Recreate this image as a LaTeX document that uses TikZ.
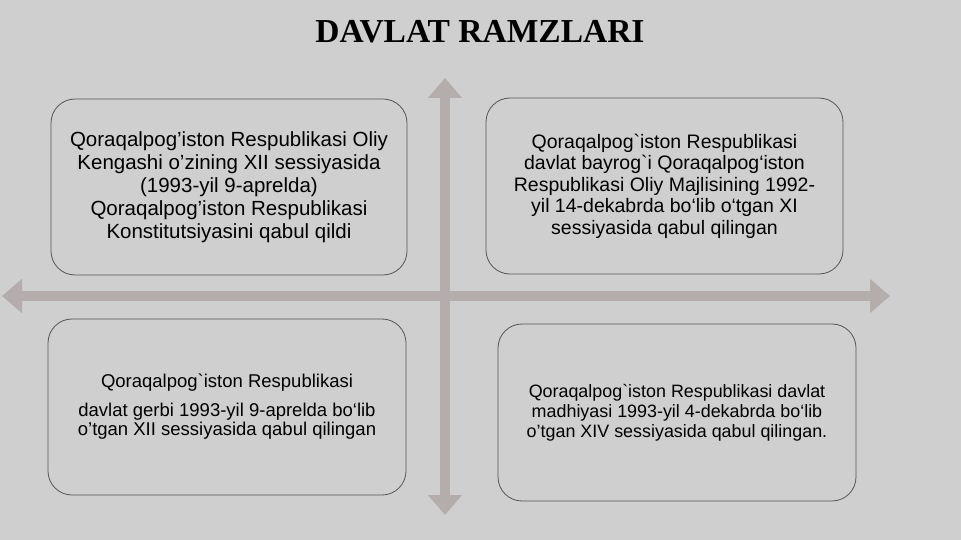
\documentclass[tikz,border=0pt]{standalone}
\usepackage{fontspec}
\setmainfont{Liberation Sans}
\newfontfamily\titlefont{Liberation Serif}
\usetikzlibrary{arrows.meta}
\definecolor{bgc}{RGB}{207,207,207}
\definecolor{arrc}{RGB}{181,172,172}
\definecolor{edgec}{RGB}{85,85,85}
\begin{document}
\begin{tikzpicture}[x=1pt,y=-1pt,
  ramz/.style={draw=edgec,line width=.8pt,rounded corners=24pt,minimum width=356pt,minimum height=176pt,align=center,inner sep=0pt},
  axis/.style={draw=arrc,line width=10pt,{Triangle[length=20pt,width=33pt]}-{Triangle[length=20pt,width=33pt]}}]
\fill[bgc] (0,0) rectangle (961,540);
\useasboundingbox (0,0) rectangle (961,540);
\node[font=\titlefont\bfseries\fontsize{33.5}{40}\selectfont,anchor=base] (title) at (480,43) {DAVLAT RAMZLARI};
\coordinate (L) at (2,296);
\coordinate (R) at (890,296);
\coordinate (T) at (445,78);
\coordinate (B) at (445,515);
\draw[axis] (L) -- (R);
\draw[axis] (T) -- (B);
\node[ramz,font=\fontsize{20.5}{23}\selectfont] (konst) at (229,187) {Qoraqalpog’iston Respublikasi Oliy\\Kengashi o’zining XII sessiyasida\\(1993-yil 9-aprelda)\\Qoraqalpog’iston Respublikasi\\Konstitutsiyasini qabul qildi};
\node[ramz,minimum width=357pt,font=\fontsize{19.5}{21.5}\selectfont] (bayroq) at (664.5,186) {Qoraqalpog\textasciigrave iston Respublikasi\\davlat bayrog\textasciigrave i Qoraqalpog‘iston\\Respublikasi Oliy Majlisining 1992-\\yil 14-dekabrda bo‘lib o‘tgan XI\\sessiyasida qabul qilingan};
\node[ramz,minimum width=358pt,font=\fontsize{18.5}{19.5}\selectfont] (gerb) at (227,407) {Qoraqalpog\textasciigrave iston Respublikasi\\[9pt]davlat gerbi 1993-yil 9-aprelda bo‘lib\\o’tgan XII sessiyasida qabul qilingan};
\node[ramz,minimum width=358pt,minimum height=177pt,font=\fontsize{17.9}{20}\selectfont] (madhiya) at (677,412.5) {Qoraqalpog\textasciigrave iston Respublikasi davlat\\madhiyasi 1993-yil 4-dekabrda bo‘lib\\o’tgan XIV sessiyasida qabul qilingan.};
\end{tikzpicture}
\end{document}
